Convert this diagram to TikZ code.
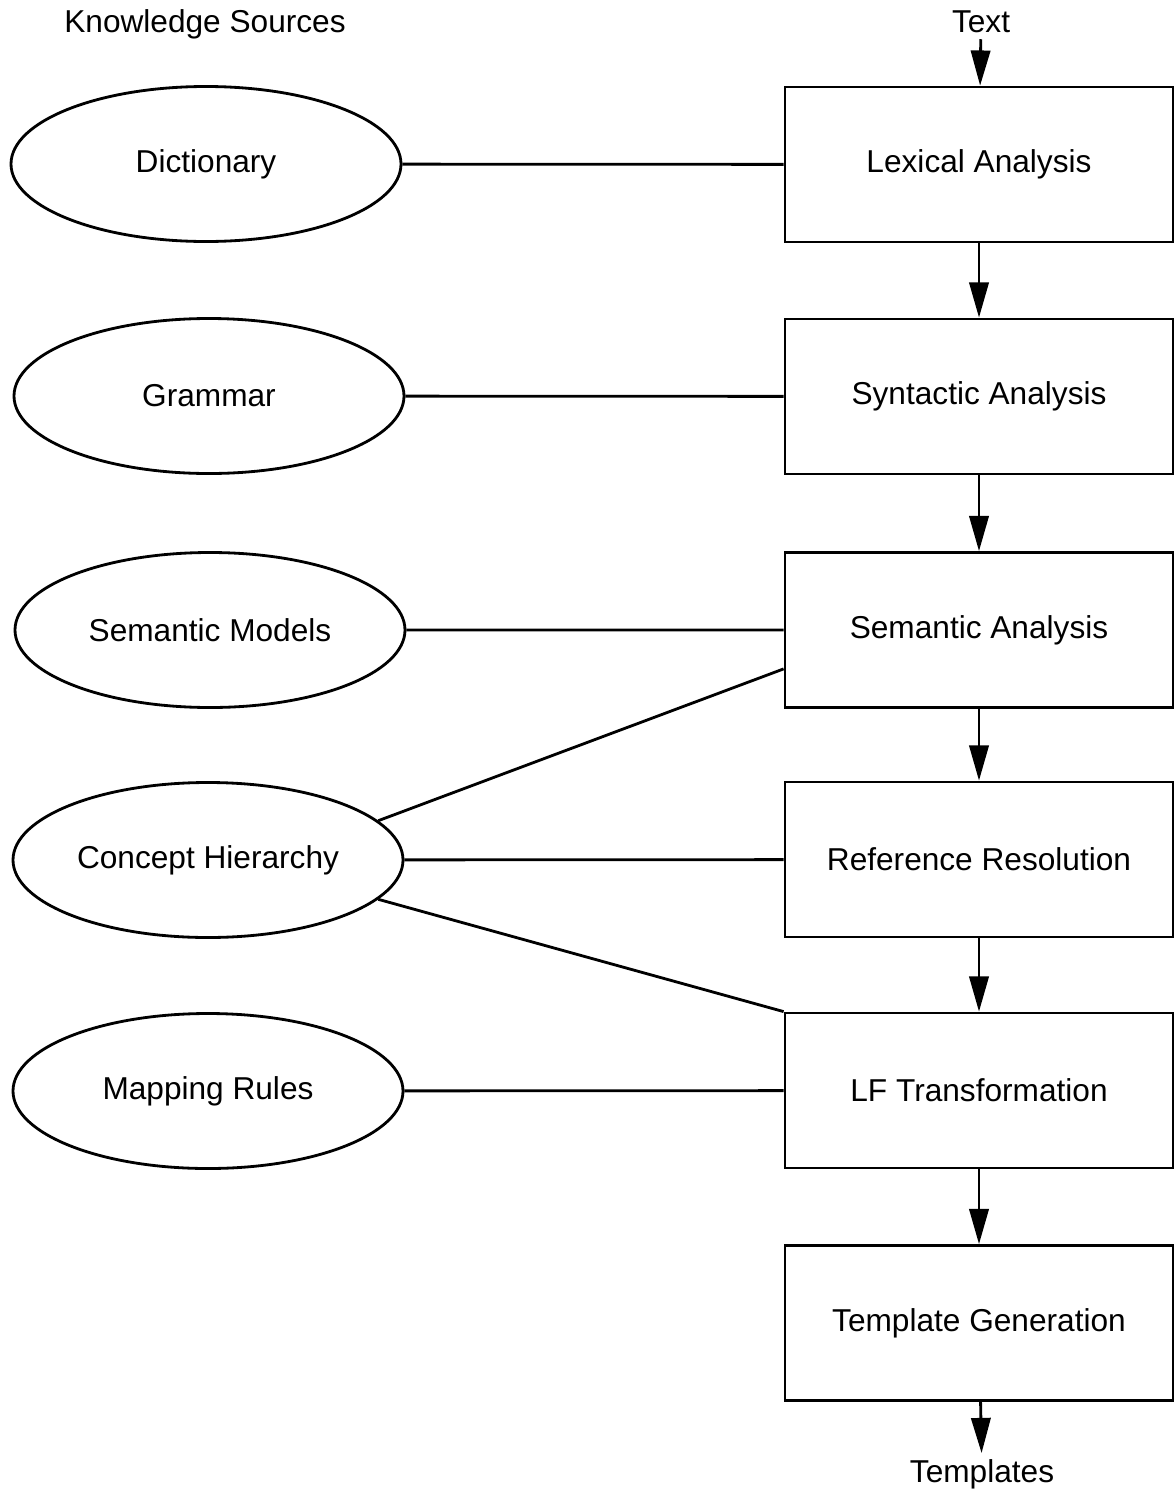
\documentclass[tikz,border=0pt]{standalone}
\usepackage{fontspec}
\setmainfont{Liberation Sans}
\usetikzlibrary{shapes.geometric,arrows.meta}

\begin{document}
\begin{tikzpicture}[
    stage/.style={draw, line width=1.6pt, minimum width=7.76cm, minimum height=3.1cm},
    source/.style={draw, ellipse, line width=1.6pt, minimum width=7.8cm, minimum height=3.1cm},
    link/.style={line width=1.6pt},
    flow/.style={line width=1.6pt, -{Triangle[length=20pt,width=11pt]}},
    font=\fontsize{18}{22}\selectfont
  ]
  \useasboundingbox (0,0) rectangle (23.5,-29.9);

  % knowledge sources
  \node (ks) at (4.1,-0.48) {Knowledge Sources};
  \node[source] (dict) at (4.12,-3.28)  {Dictionary};
  \node[source] (gram) at (4.18,-7.92)  {Grammar};
  \node[source] (sm)   at (4.2,-12.6)   {Semantic Models};
  \node[source] (ch)   at (4.16,-17.2)  {Concept Hierarchy};
  \node[source] (mr)   at (4.16,-21.82) {Mapping Rules};

  % processing stages
  \node (txt) at (19.62,-0.44) {Text};
  \node[stage] (la) at (19.58,-3.29)  {Lexical Analysis};
  \node[stage] (sy) at (19.58,-7.93)  {Syntactic Analysis};
  \node[stage] (sa) at (19.58,-12.6)  {Semantic Analysis};
  \node[stage] (rr) at (19.58,-17.19) {Reference Resolution};
  \node[stage] (lf) at (19.58,-21.81) {LF Transformation};
  \node[stage] (tg) at (19.58,-26.46) {Template Generation};
  \node (tpl) at (19.64,-29.48) {Templates};

  % the flow
  \draw [flow] (txt) -- (la);
  \draw [flow] (la) -- (sy);
  \draw [flow] (sy) -- (sa);
  \draw [flow] (sa) -- (rr);
  \draw [flow] (rr) -- (lf);
  \draw [flow] (lf) -- (tg);
  \draw [flow] (tg) -- (tpl);

  % the links
  \draw [link] (dict) -- (la)
               (gram) -- (sy)
               (sm)   -- (sa)
               (ch)   -- (rr)
               (mr)   -- (lf)
               (ch.13)  -- ([yshift=0.8cm]sa.south west)
               (ch.-13) -- (lf.north west);
\end{tikzpicture}
\end{document}
